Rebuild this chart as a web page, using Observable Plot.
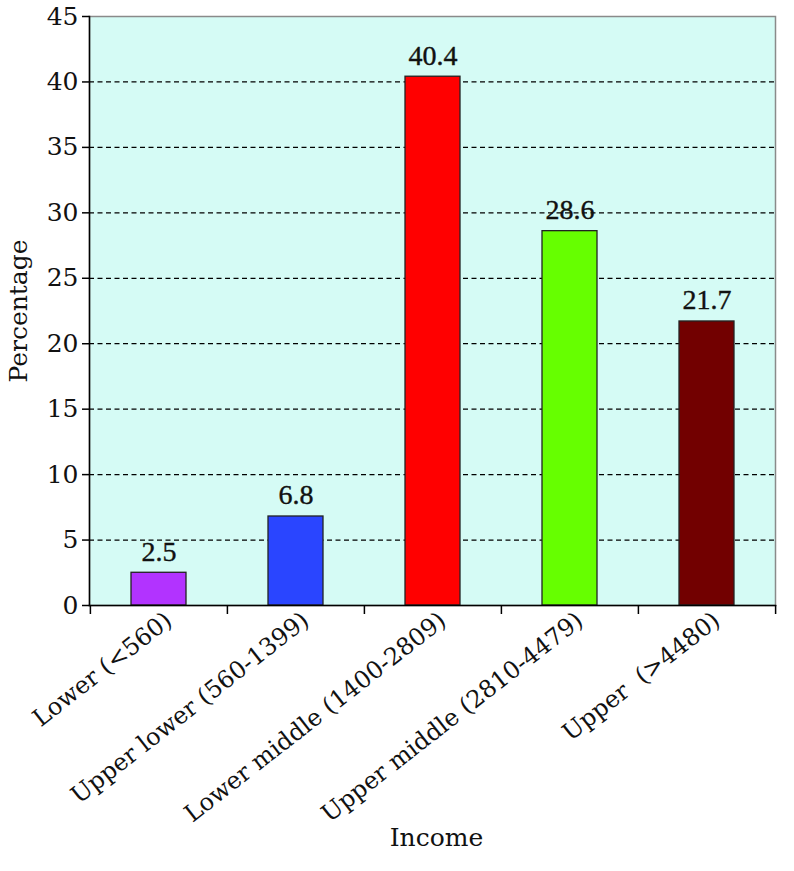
<!DOCTYPE html>
<html><head><meta charset="utf-8">
<script src="https://cdn.jsdelivr.net/npm/d3@7"></script>
<script src="https://cdn.jsdelivr.net/npm/@observablehq/plot@0.6"></script>
<style>body{margin:0;background:#fff}</style>
</head><body><div id="chart"></div>
<script>
const categories = ["Lower (<560)", "Upper lower (560-1399)", "Lower middle (1400-2809)", "Upper middle (2810-4479)", "Upper  (>4480)"];
const values = [2.5, 6.8, 40.4, 28.6, 21.7];
const colors = ["#b233ff", "#2a45ff", "#ff0000", "#66ff00", "#720000"];
const yTicks = [0, 5, 10, 15, 20, 25, 30, 35, 40, 45];
const gridTicks = [5, 10, 15, 20, 25, 30, 35, 40];
const xTitle = "Income";
const yTitle = "Percentage";

const data = categories.map((c, i) => ({category: c, value: values[i], color: colors[i]}));
const W = 794, H = 871, mL = 89, mR = 19, mT = 16, mB = 266;
const step = (W - mL - mR) / categories.length;
const font = "DejaVu Serif";
const valueFont = "Liberation Serif";

const chart = Plot.plot({
  width: W, height: H,
  marginLeft: mL, marginRight: mR, marginTop: mT, marginBottom: mB,
  style: {fontFamily: font, fontSize: "24px", color: "#111", background: "white", overflow: "visible"},
  x: {domain: categories, paddingInner: 0.6, paddingOuter: 0.3, label: null},
  y: {domain: [0, 45], label: null},
  marks: [
    Plot.frame({fill: "#d5fbf5", stroke: "#8a8a8a", strokeWidth: 1.5}),
    Plot.ruleY(gridTicks, {stroke: "#000", strokeDasharray: "5,3.5", strokeWidth: 1.3}),
    Plot.barY(data, {x: "category", y: "value", fill: "color", stroke: "#222", strokeWidth: 1.3}),
    Plot.text(data, {x: "category", y: "value", text: d => d.value.toFixed(1), dy: -21, fontSize: 28, fontFamily: valueFont, fill: "#111", stroke: "#111", strokeWidth: 0.4}),
    Plot.frame({anchor: "left", stroke: "#000", strokeWidth: 1.5}),
    Plot.frame({anchor: "bottom", stroke: "#000", strokeWidth: 1.5}),
    Plot.axisY({ticks: yTicks, tickSize: 7, tickPadding: 4, fontSize: 25, fontFamily: font, label: null, stroke: "#000", strokeWidth: 1.5}),
    Plot.axisX({ticks: categories, tickSize: 9, dx: -step / 2, text: null, label: null, stroke: "#000", strokeWidth: 1.5}),
    Plot.axisX({ticks: [categories[categories.length - 1]], tickSize: 9, dx: step / 2, text: null, label: null, stroke: "#000", strokeWidth: 1.5}),
    Plot.axisX({tickSize: 0, tickRotate: -38, tickPadding: 12, fontSize: 24, fontFamily: font, label: null, dx: 10}),
    Plot.text([xTitle], {frameAnchor: "bottom", dy: 240, dx: 4, fontSize: 25, fontFamily: font, fill: "#111"}),
    Plot.text([yTitle], {frameAnchor: "left", dx: -71, rotate: -90, textAnchor: "middle", fontSize: 25, fontFamily: font, fill: "#111"})
  ]
});
document.getElementById("chart").appendChild(chart);
</script>
</body></html>
